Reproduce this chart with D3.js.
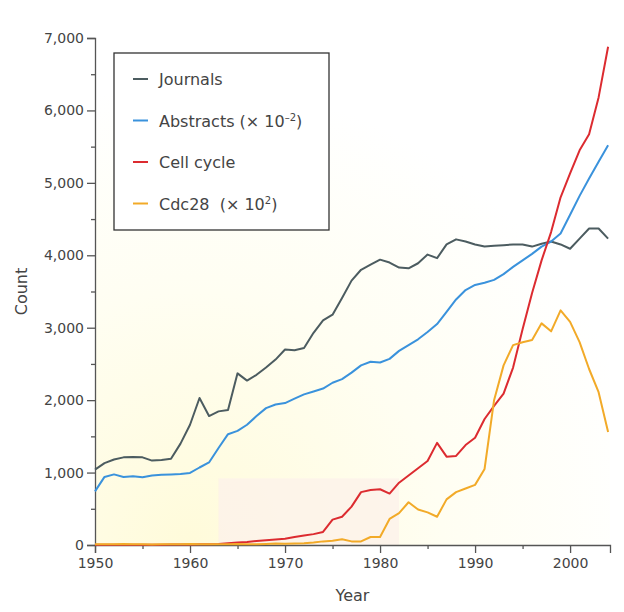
<!DOCTYPE html>
<html>
<head>
<meta charset="utf-8">
<script src="https://cdn.jsdelivr.net/npm/d3@7"></script>
<style>
  html, body { margin: 0; padding: 0; background: #ffffff; }
  svg { display: block; }
  text { font-family: "DejaVu Sans", sans-serif; }
</style>
</head>
<body>
<svg id="chart" width="624" height="612"></svg>
<script>
const years = [1950,1951,1952,1953,1954,1955,1956,1957,1958,1959,
  1960,1961,1962,1963,1964,1965,1966,1967,1968,1969,
  1970,1971,1972,1973,1974,1975,1976,1977,1978,1979,
  1980,1981,1982,1983,1984,1985,1986,1987,1988,1989,
  1990,1991,1992,1993,1994,1995,1996,1997,1998,1999,
  2000,2001,2002,2003,2004];

const journals = [1040,1130,1180,1210,1215,1210,1165,1175,1190,1400,
  1660,2030,1780,1845,1865,2370,2270,2350,2450,2560,
  2700,2690,2720,2930,3100,3180,3410,3650,3800,3870,
  3940,3900,3830,3820,3890,4010,3960,4150,4220,4190,
  4150,4120,4130,4140,4150,4150,4120,4160,4190,4150,
  4090,4230,4370,4370,4230];

const abstracts = [740,940,975,940,950,935,960,970,975,980,
  995,1070,1140,1340,1530,1575,1660,1780,1890,1940,
  1960,2020,2080,2120,2160,2240,2290,2380,2480,2530,
  2520,2570,2680,2760,2840,2940,3050,3220,3390,3520,
  3590,3620,3660,3740,3840,3930,4020,4120,4190,4300,
  4560,4820,5060,5290,5520];

const cellCycle = [5,5,5,5,5,5,5,5,6,6,
  8,10,12,15,25,35,40,55,65,75,
  85,110,130,150,180,350,390,530,730,760,
  770,710,860,960,1060,1160,1410,1220,1230,1380,
  1480,1740,1920,2090,2450,2980,3480,3930,4320,4800,
  5130,5450,5670,6180,6880];

const cdc28 = [10,12,10,15,12,10,8,10,12,10,
  15,12,10,10,12,15,12,10,15,20,
  18,22,25,35,50,60,80,50,50,110,
  110,360,440,590,490,450,390,630,730,780,
  830,1050,2000,2480,2760,2800,2830,3060,2950,3240,
  3080,2800,2430,2110,1560];

const yTicks = [0,1000,2000,3000,4000,5000,6000,7000];
const yMinor = [500,1500,2500,3500,4500,5500,6500];
const xTicks = [1950,1960,1970,1980,1990,2000];
const xMinor = [1955,1965,1975,1985,1995];

const seriesNames = ["Journals", "Abstracts", "Cell cycle", "Cdc28"];
const seriesColors = ["#4c5c60", "#3a92dc", "#dc2b30", "#f2aa28"];
const seriesValues = [journals, abstracts, cellCycle, cdc28];

const svg = d3.select("#chart");
const x = d3.scaleLinear().domain([1950, 2004.2]).range([95, 610]);
const y = d3.scaleLinear().domain([0, 7000]).range([545, 38]);

// faint background shading
const defs = svg.append("defs");
const rg = defs.append("radialGradient").attr("id", "bgGrad")
  .attr("gradientUnits", "userSpaceOnUse")
  .attr("cx", x(1960)).attr("cy", y(0)).attr("r", 460);
rg.append("stop").attr("offset", "0%").attr("stop-color", "#fffbda");
rg.append("stop").attr("offset", "55%").attr("stop-color", "#fffef2");
rg.append("stop").attr("offset", "100%").attr("stop-color", "#ffffff");
svg.append("rect")
  .attr("x", x(1950)).attr("y", y(7000))
  .attr("width", x(2004.2) - x(1950)).attr("height", y(0) - y(7000))
  .attr("fill", "url(#bgGrad)");
svg.append("rect")
  .attr("x", x(1963)).attr("y", y(920))
  .attr("width", x(1982) - x(1963)).attr("height", y(0) - y(920))
  .attr("fill", "#fdf1ea").attr("opacity", 0.8);

// axes
const yAxis = d3.axisLeft(y).tickValues(yTicks).tickSize(8).tickPadding(3)
  .tickFormat(d3.format(","));
const gy = svg.append("g").attr("transform", `translate(${x(1950)},0)`).call(yAxis);
gy.selectAll(".tick text").attr("font-size", 14).attr("fill", "#444")
  .attr("font-family", "DejaVu Sans, sans-serif");
gy.select(".domain").attr("stroke", "#555").attr("stroke-width", 1.3);
gy.selectAll(".tick line").attr("stroke", "#555").attr("stroke-width", 1.3);
const gyMinor = svg.append("g").attr("transform", `translate(${x(1950)},0)`)
  .call(d3.axisLeft(y).tickValues(yMinor).tickSize(4).tickFormat(""));
gyMinor.select(".domain").remove();
gyMinor.selectAll(".tick line").attr("stroke", "#555").attr("stroke-width", 1.3);

const xAxis = d3.axisBottom(x).tickValues(xTicks).tickSize(8).tickPadding(5)
  .tickFormat(d3.format("d"));
const gx = svg.append("g").attr("transform", `translate(0,${y(0)})`).call(xAxis);
gx.selectAll(".tick text").attr("font-size", 14).attr("fill", "#444")
  .attr("font-family", "DejaVu Sans, sans-serif");
gx.select(".domain").attr("stroke", "#555").attr("stroke-width", 1.3);
gx.selectAll(".tick line").attr("stroke", "#555").attr("stroke-width", 1.3);
const gxMinor = svg.append("g").attr("transform", `translate(0,${y(0)})`)
  .call(d3.axisBottom(x).tickValues(xMinor).tickSize(4).tickFormat(""));
gxMinor.select(".domain").remove();
gxMinor.selectAll(".tick line").attr("stroke", "#555").attr("stroke-width", 1.3);

// axis titles
svg.append("text").attr("x", (x(1950) + x(2004.2)) / 2).attr("y", 601)
  .attr("text-anchor", "middle").attr("font-size", 16).attr("fill", "#444")
  .text("Year");
svg.append("text").attr("transform", `translate(27,${(y(0) + y(7000)) / 2}) rotate(-90)`)
  .attr("text-anchor", "middle").attr("font-size", 16).attr("fill", "#444")
  .text("Count");

// lines
const line = d3.line().x((d, i) => x(years[i])).y(d => y(d));
seriesValues.forEach((vals, k) => {
  svg.append("path").datum(vals)
    .attr("fill", "none")
    .attr("stroke", seriesColors[k])
    .attr("stroke-width", 2)
    .attr("stroke-linejoin", "round")
    .attr("d", line);
});

// legend
const lg = svg.append("g");
lg.append("rect").attr("x", 114).attr("y", 53).attr("width", 215).attr("height", 177)
  .attr("fill", "#ffffff").attr("stroke", "#333").attr("stroke-width", 1.3);
const legendRows = [
  {name: "Journals", sup: null, pre: null},
  {name: "Abstracts (× 10", sup: "–2", post: ")"},
  {name: "Cell cycle", sup: null},
  {name: "Cdc28  (× 10", sup: "2", post: ")"}
];
legendRows.forEach((r, i) => {
  const cy = 79 + i * 41.5;
  lg.append("line").attr("x1", 133).attr("x2", 148).attr("y1", cy).attr("y2", cy)
    .attr("stroke", seriesColors[i]).attr("stroke-width", 2);
  const t = lg.append("text").attr("x", 159).attr("y", cy + 6)
    .attr("font-size", 16).attr("fill", "#444").attr("xml:space", "preserve");
  t.append("tspan").text(r.name);
  if (r.sup) {
    t.append("tspan").attr("font-size", 10).attr("dy", -6).text(r.sup);
    t.append("tspan").attr("dy", 6).text(r.post);
  }
});
</script>
</body>
</html>
